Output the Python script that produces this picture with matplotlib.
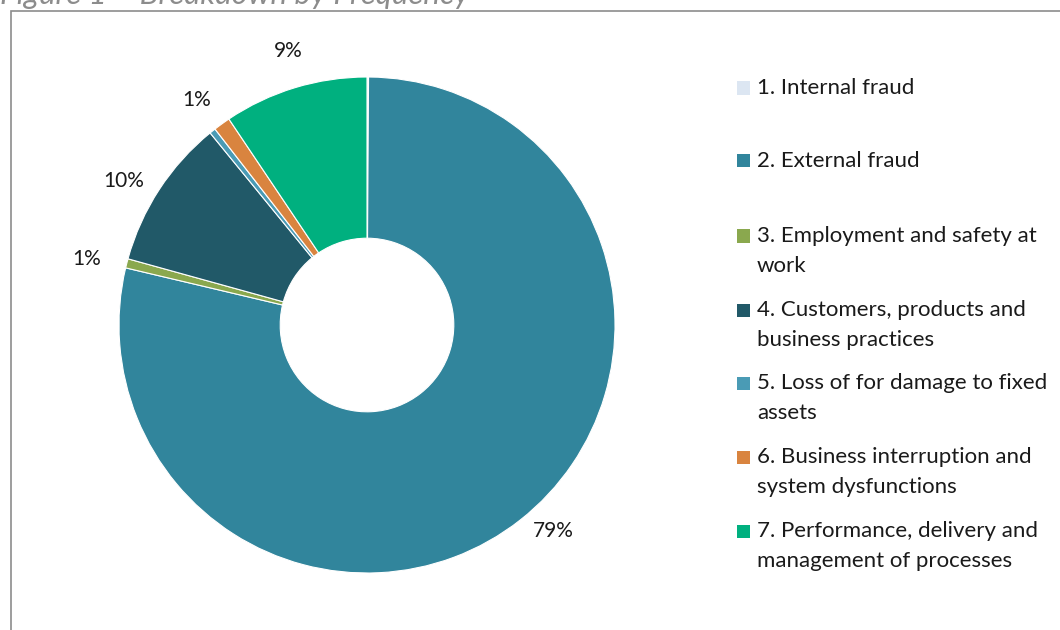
import matplotlib
matplotlib.use("Agg")
import matplotlib.pyplot as plt
from matplotlib.patches import Rectangle
import numpy as np

plt.rcParams['font.family'] = ['Lato', 'DejaVu Sans']

categories = [
    "1. Internal fraud",
    "2. External fraud",
    "3. Employment and safety at work",
    "4. Customers, products and business practices",
    "5. Loss of for damage to fixed assets",
    "6. Business interruption and system dysfunctions",
    "7. Performance, delivery and management of processes",
]
legend_lines = [
    ["1. Internal fraud"],
    ["2. External fraud"],
    ["3. Employment and safety at", "work"],
    ["4. Customers, products and", "business practices"],
    ["5. Loss of for damage to fixed", "assets"],
    ["6. Business interruption and", "system dysfunctions"],
    ["7. Performance, delivery and", "management of processes"],
]
values = [0.1, 78.6, 0.6, 9.8, 0.4, 1.1, 9.4]
pct_labels = ["", "79%", "1%", "10%", "", "1%", "9%"]
colors = ["#dce6f2", "#31859c", "#8aa84e", "#215968", "#4a9bb5", "#d9843f", "#00b07f"]
label_dist = [1.15, 1.12, 1.16, 1.14, 1.15, 1.14, 1.15]
label_shift = [0, 4, 1.1, 2.5, 0, 1.3, -0.9]  # degrees

W, H = 1060, 630
fig = plt.figure(figsize=(W / 100, H / 100), dpi=100)

cx, cy, r = 367, 325, 248
ax = fig.add_axes([(cx - r) / W, (H - cy - r) / H, 2 * r / W, 2 * r / H])
wedges, _ = ax.pie(values, colors=colors, startangle=90, counterclock=False,
                   radius=1.0, wedgeprops=dict(width=0.65, edgecolor="white", linewidth=0.8))
for w, lab, d, sh in zip(wedges, pct_labels, label_dist, label_shift):
    if not lab:
        continue
    ang = np.deg2rad((w.theta1 + w.theta2) / 2 + sh)
    ax.text(d * np.cos(ang), d * np.sin(ang), lab, ha="center", va="center",
            fontsize=15, color="#1a1a1a")
ax.set_xlim(-1, 1)
ax.set_ylim(-1, 1)
ax.set_aspect("equal")
ax.axis("off")

row_y = [88, 161, 236, 310, 383, 457, 531]
for lines, c, y in zip(legend_lines, colors, row_y):
    fig.patches.append(Rectangle((737 / W, 1 - (y + 6.5) / H), 13 / W, 13 / H,
                                 transform=fig.transFigure, facecolor=c, edgecolor="none"))
    for k, ln in enumerate(lines):
        fig.text(757 / W, 1 - (y + 30 * k) / H, ln, ha="left", va="center",
                 fontsize=16, color="#1a1a1a")

fig.patches.append(Rectangle((11 / W, -0.05), 1.1, 1 - 11 / H + 0.05, transform=fig.transFigure,
                             facecolor="none", edgecolor="#8c8c8c", linewidth=1.2))

fig.text(0 / W, 1 - 4 / H, "Figure 1 \u2013 Breakdown by Frequency", ha="left", va="baseline",
         fontsize=22.5, style="italic", color="#8c8c8c")

fig.savefig("out.png", dpi=100)
